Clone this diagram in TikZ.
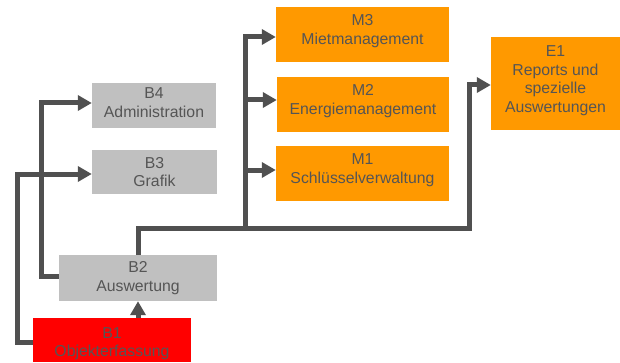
\documentclass[tikz,border=0pt]{standalone}
\usepackage{fontspec}
\setmainfont{Liberation Sans}
\usetikzlibrary{arrows.meta}
\definecolor{txt}{RGB}{85,85,85}
\definecolor{ln}{RGB}{80,80,80}
\definecolor{boxgray}{RGB}{192,192,192}
\definecolor{orng}{RGB}{255,153,0}
\begin{document}
\begin{tikzpicture}[x=1pt,y=1pt,
  box/.style={draw=none, inner sep=0pt},
  lbl/.style={inner sep=0pt, align=center, text=txt, font=\fontsize{15.8}{18.5}\selectfont},
  gbox/.style={box, fill=boxgray},
  obox/.style={box, fill=orng},
  rbox/.style={box, fill=red},
  conn/.style={draw=ln, line width=5pt},
  arr/.style={conn, -{Triangle[length=14pt,width=15pt]}}]
\useasboundingbox (0,0) rectangle (620,362);
\node[gbox, minimum width=124pt, minimum height=45pt] (B4) at (154,256.5) {};
\node[gbox, minimum width=125pt, minimum height=44pt] (B3) at (154.5,190) {};
\node[gbox, minimum width=158pt, minimum height=46pt] (B2) at (138,84) {};
\node[rbox, minimum width=158pt, minimum height=44pt] (B1) at (112,22) {};
\node[obox, minimum width=173pt, minimum height=55pt] (M3) at (362.5,327.5) {};
\node[obox, minimum width=172pt, minimum height=55pt] (M2) at (363,257.5) {};
\node[obox, minimum width=173pt, minimum height=55pt] (M1) at (362.5,188.5) {};
\node[obox, minimum width=129pt, minimum height=93pt] (E1) at (555.5,278.5) {};
\node[lbl] (B4t) at ([yshift=3pt]B4.center) {B4\\Administration};
\node[lbl] (B3t) at (B3.center) {B3\\Grafik};
\node[lbl] (B2t) at (B2.center) {B2\\Auswertung};
\node[lbl] (B1t) at ([yshift=-3.5pt]B1.center) {B1\\Objekterfassung};
\node[lbl] (M3t) at ([yshift=3.5pt]M3.center) {M3\\Mietmanagement};
\node[lbl] (M2t) at ([yshift=3.5pt]M2.center) {M2\\Energiemanagement};
\node[lbl] (M1t) at ([yshift=3.5pt]M1.center) {M1\\Schlüsselverwaltung};
\node[lbl] (E1t) at ([yshift=3pt]E1.center) {E1\\Reports und\\spezielle\\Auswertungen};
\coordinate (J) at (245,134);
\coordinate (K) at (469,134);
\draw[arr] (B2.south |- B1.north) -- (B2.south);
\draw[arr] ([yshift=-2pt]B1.west) -- ++(-15,0) |- ([yshift=-2pt]B3.west);
\draw[arr] ([yshift=2pt]B2.west) -- ++(-17,0) |- ([yshift=2.5pt]B4.west);
\draw[arr] (B2.north) |- (K) |- ([yshift=-1.5pt]E1.west);
\draw[arr] (J) |- ([yshift=-2.5pt]M3.west);
\draw[arr] ([yshift=4.5pt]M2.west -| J) -- ([yshift=4.5pt]M2.west);
\draw[arr] ([yshift=3.5pt]M1.west -| J) -- ([yshift=3.5pt]M1.west);
\end{tikzpicture}
\end{document}
